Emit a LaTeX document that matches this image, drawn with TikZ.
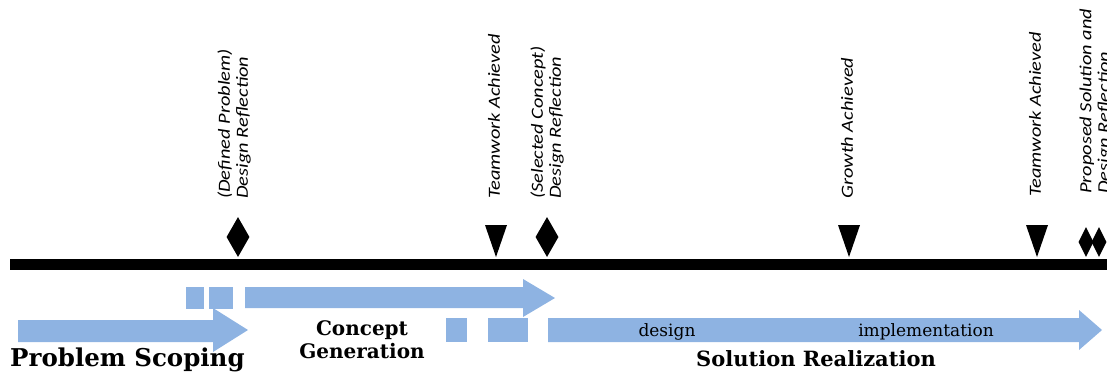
\documentclass[tikz,border=0pt]{standalone}
\usepackage{fontspec}
\setmainfont{DejaVu Serif}
\newfontfamily\markfont[FakeStretch=1.2]{Carlito}
\usetikzlibrary{shapes.geometric}
\definecolor{phaseblue}{RGB}{142,179,226}
\tikzset{
	blockarrow/.style={fill=phaseblue},
	diamondmark/.style={diamond,fill=black,inner sep=0pt,minimum width=23pt,minimum height=40pt},
	marklabel/.style={rotate=90,anchor=west,align=left,inner sep=0pt,font=\markfont\itshape\fontsize{17}{18}\selectfont},
	phase/.style={inner sep=0pt,font=\bfseries\fontsize{22}{24}\selectfont},
	steptext/.style={inner sep=0pt,font=\fontsize{17}{18}\selectfont}
}
\begin{document}
\begin{tikzpicture}[x=1pt,y=-1pt]
		\useasboundingbox (0,0) rectangle (1107,373);
		\fill (10,259) rectangle (1107,270);
		\fill[blockarrow] (18,320) -- (213,320) -- (213,308) -- (248,330) -- (213,352) -- (213,342) -- (18,342) -- cycle;
		\fill[blockarrow] (245,287) -- (523,287) -- (523,279) -- (555,298) -- (523,317) -- (523,308) -- (245,308) -- cycle;
		\fill[blockarrow] (548,318) -- (1079,318) -- (1079,310) -- (1102,330) -- (1079,350) -- (1079,342) -- (548,342) -- cycle;
		\fill[blockarrow] (186,287) rectangle (204,309);
		\fill[blockarrow] (209,287) rectangle (233,309);
		\fill[blockarrow] (446,318) rectangle (467,342);
		\fill[blockarrow] (488,318) rectangle (528,342);
		\foreach \x in {496,849,1037}
			\fill (\x-11,225) -- (\x+11,225) -- (\x,257) -- cycle;
		\node[diamondmark] (dmDefined) at (238,237) {};
		\node[diamondmark] (dmSelected) at (547,237) {};
		\node[diamondmark,minimum width=15pt,minimum height=30pt] (dmProposedA) at (1086,242) {};
		\node[diamondmark,minimum width=15pt,minimum height=30pt] (dmProposedB) at (1099,242) {};
		\node[marklabel] (lbDefined) at (234,199) {(Defined Problem)\\Design Reflection};
		\node[marklabel] (lbTeamA) at (494,199) {Teamwork Achieved};
		\node[marklabel] (lbSelected) at (547,199) {(Selected Concept)\\Design Reflection};
		\node[marklabel] (lbGrowth) at (847,199) {Growth Achieved};
		\node[marklabel] (lbTeamB) at (1035,197) {Teamwork Achieved};
		\node[marklabel] (lbProposed) at (1096,194) {Proposed Solution and\\Design Reflection};
		\node[phase,anchor=base west,font=\bfseries\fontsize{24.5}{26}\selectfont] (scoping) at (10,366) {Problem Scoping};
		\node[phase,align=center,font=\bfseries\fontsize{20}{23}\selectfont] (concept) at (362,340) {Concept\\Generation};
		\node[phase,anchor=base,font=\bfseries\fontsize{21}{24}\selectfont] (realization) at (816,366) {Solution Realization};
		\node[steptext,anchor=base] (design) at (667,336) {design};
		\node[steptext,anchor=base] (implementation) at (926,336) {implementation};
	\end{tikzpicture}
\end{document}
